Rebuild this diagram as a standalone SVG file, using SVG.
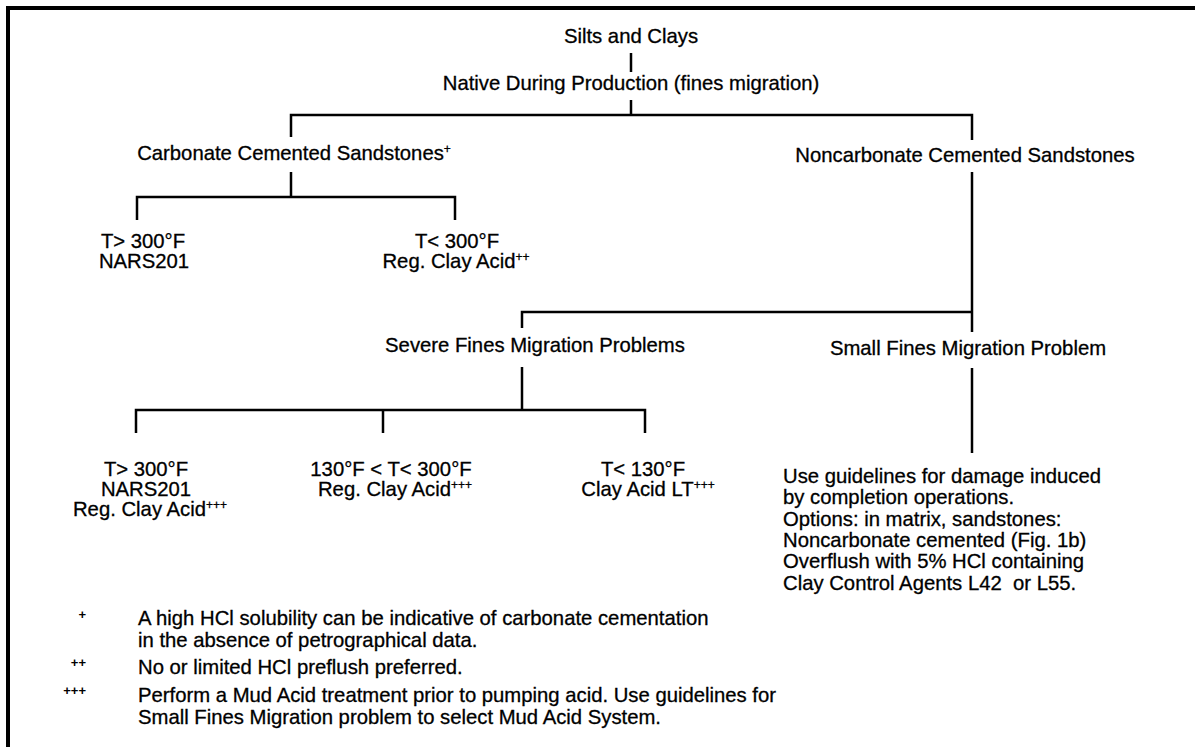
<svg xmlns="http://www.w3.org/2000/svg" width="1195" height="747" viewBox="0 0 1195 747">
<style>
.t{font-family:"Liberation Sans",Arial,sans-serif;font-size:20.3px;fill:#000;stroke:#000;stroke-width:0.3}
.c{text-anchor:middle}
.sup{font-size:12px}
.mk{font-family:"Liberation Sans",Arial,sans-serif;font-size:13px;font-weight:bold;text-anchor:end;fill:#000}
.ln{fill:none;stroke:#000;stroke-width:2.5}
.fr{fill:none;stroke:#000;stroke-width:4}
</style>
<rect width="1195" height="747" fill="#fff"/>
<g id="frame">
<path class="fr" d="M1195,8 H8 V747"/>
</g>
<g id="connectors">
<path class="ln" d="M631,53 V72"/>
<path class="ln" d="M631,100 V115"/>
<path class="ln" d="M291,137 V115 H972 V140"/>
<path class="ln" d="M291,172 V197"/>
<path class="ln" d="M137,220 V197 H455 V220"/>
<path class="ln" d="M972,172 V332"/>
<path class="ln" d="M522,328 V312 H972"/>
<path class="ln" d="M972,368 V453"/>
<path class="ln" d="M522,367 V410"/>
<path class="ln" d="M136,433 V410 H645 V433"/>
<path class="ln" d="M383,410 V433"/>
</g>
<g id="n-silts"><text class="t c" x="631" y="43">Silts and Clays</text></g>
<g id="n-native"><text class="t c" x="631" y="90">Native During Production (fines migration)</text></g>
<g id="n-carb"><text class="t c" x="294" y="160">Carbonate Cemented Sandstones<tspan class="sup" dy="-7">+</tspan></text></g>
<g id="n-noncarb"><text class="t c" x="965" y="162">Noncarbonate Cemented Sandstones</text></g>
<g id="n-c-hot">
<text class="t c" x="143" y="248">T&gt; 300°F</text>
<text class="t c" x="144" y="268">NARS201</text>
</g>
<g id="n-c-cool">
<text class="t c" x="457" y="248">T&lt; 300°F</text>
<text class="t c" x="456" y="268">Reg. Clay Acid<tspan class="sup" dy="-7">++</tspan></text>
</g>
<g id="n-severe"><text class="t c" x="535" y="352">Severe Fines Migration Problems</text></g>
<g id="n-small"><text class="t c" x="968" y="355">Small Fines Migration Problem</text></g>
<g id="n-s-hot">
<text class="t c" x="146" y="476">T&gt; 300°F</text>
<text class="t c" x="146" y="496">NARS201</text>
<text class="t c" x="150" y="516">Reg. Clay Acid<tspan class="sup" dy="-7">+++</tspan></text>
</g>
<g id="n-s-mid">
<text class="t c" x="391" y="476">130°F &lt; T&lt; 300°F</text>
<text class="t c" x="395" y="496">Reg. Clay Acid<tspan class="sup" dy="-7">+++</tspan></text>
</g>
<g id="n-s-low">
<text class="t c" x="643" y="476">T&lt; 130°F</text>
<text class="t c" x="648" y="496">Clay Acid LT<tspan class="sup" dy="-7">+++</tspan></text>
</g>
<g id="n-guidelines">
<text class="t" x="783" y="483">Use guidelines for damage induced</text>
<text class="t" x="783" y="504">by completion operations.</text>
<text class="t" x="783" y="526">Options: in matrix, sandstones:</text>
<text class="t" x="783" y="547">Noncarbonate cemented (Fig. 1b)</text>
<text class="t" x="783" y="568">Overflush with 5% HCl containing</text>
<text class="t" x="783" y="590">Clay Control Agents L42&#160; or L55.</text>
</g>
<g id="footnotes">
<text class="mk" x="86" y="619">+</text>
<text class="t" x="138" y="625">A high HCl solubility can be indicative of carbonate cementation</text>
<text class="t" x="138" y="647">in the absence of petrographical data.</text>
<text class="mk" x="86" y="667">++</text>
<text class="t" x="138" y="674">No or limited HCl preflush preferred.</text>
<text class="mk" x="86" y="695">+++</text>
<text class="t" x="138" y="702">Perform a Mud Acid treatment prior to pumping acid. Use guidelines for</text>
<text class="t" x="138" y="724">Small Fines Migration problem to select Mud Acid System.</text>
</g>
</svg>
